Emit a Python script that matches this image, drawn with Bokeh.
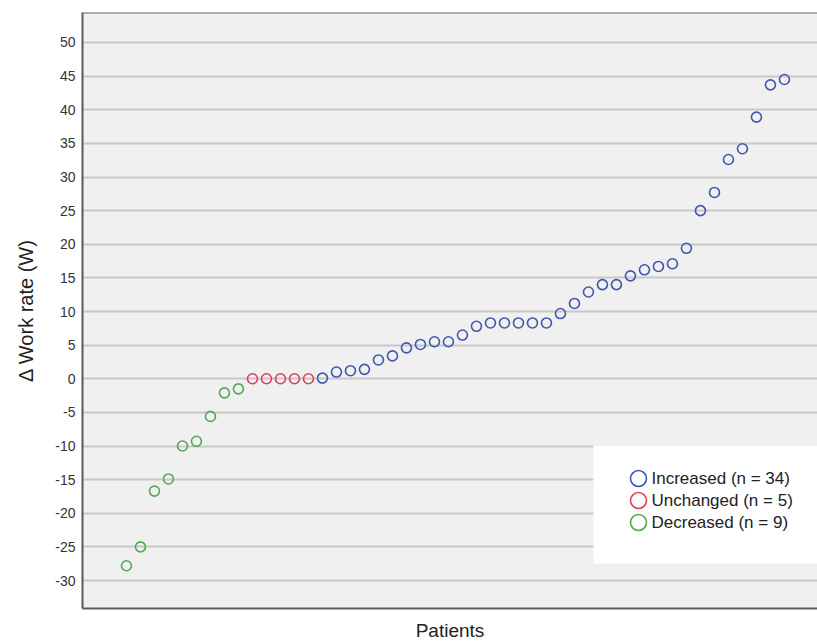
from bokeh.plotting import figure
from bokeh.models import Range1d, FixedTicker, Legend, LegendItem, Span, BoxAnnotation, Label
from bokeh.embed import file_html
from bokeh.resources import INLINE

# ---- data (sorted change in work rate per patient) ----
decreased = [-27.8, -25.0, -16.7, -14.9, -10.0, -9.3, -5.6, -2.1, -1.5]
unchanged = [0.0, 0.0, 0.0, 0.0, 0.0]
increased = [0.1, 1.0, 1.2, 1.4, 2.8, 3.4, 4.6, 5.1, 5.5, 5.5,
             6.5, 7.8, 8.3, 8.3, 8.3, 8.3, 8.3, 9.7, 11.2, 12.9,
             14.0, 14.0, 15.3, 16.2, 16.7, 17.1, 19.4, 25.0, 27.7, 32.6,
             34.2, 38.9, 43.7, 44.5]
group_labels = ["Increased (n = 34)", "Unchanged (n = 5)", "Decreased (n = 9)"]
y_ticks = [-30, -25, -20, -15, -10, -5, 0, 5, 10, 15, 20, 25, 30, 35, 40, 45, 50]

BLUE, RED, GREEN = "#3e58ac", "#e23c5e", "#52a852"
FONT = "Liberation Sans"

Y0, Y1 = -34.16, 54.46
p = figure(width=817, height=643, output_backend="svg", toolbar_location=None,
           x_range=Range1d(-2.14, 50.36), y_range=Range1d(Y0, Y1),
           min_border_left=82, min_border_right=0, min_border_top=12, min_border_bottom=35)
p.background_fill_color = "#f0f0f0"
p.border_fill_color = "white"
p.outline_line_color = None

# axes
p.yaxis.ticker = FixedTicker(ticks=y_ticks)
p.yaxis.major_label_overrides = {t: str(t) for t in y_ticks}
p.yaxis.major_tick_out = 0
p.yaxis.major_tick_in = 0
p.yaxis.minor_tick_out = 0
p.yaxis.minor_tick_in = 0
p.yaxis.major_label_standoff = 7
p.yaxis.major_label_text_font = FONT
p.yaxis.major_label_text_font_size = "14px"
p.yaxis.major_label_text_color = "#333333"
p.yaxis.axis_line_color = "#5a5a5a"
p.yaxis.axis_line_width = 2
p.yaxis.axis_label = "\u0394 Work rate (W)"
p.yaxis.axis_label_text_font = FONT
p.yaxis.axis_label_text_font_size = "20px"
p.yaxis.axis_label_text_font_style = "normal"
p.yaxis.axis_label_text_color = "#222222"
p.yaxis.axis_label_standoff = 15

p.xaxis.ticker = FixedTicker(ticks=[])
p.xaxis.major_tick_out = 0
p.xaxis.major_tick_in = 0
p.xaxis.minor_tick_out = 0
p.xaxis.minor_tick_in = 0
p.xaxis.major_label_text_font_size = "0px"
p.xaxis.major_label_standoff = 0
p.xaxis.axis_line_color = "#5a5a5a"
p.xaxis.axis_line_width = 2
p.xaxis.axis_label = "Patients"
p.xaxis.axis_label_text_font = FONT
p.xaxis.axis_label_text_font_size = "19px"
p.xaxis.axis_label_text_font_style = "normal"
p.xaxis.axis_label_text_color = "#222222"
p.xaxis.axis_label_standoff = 11

p.xgrid.grid_line_color = None
p.ygrid.grid_line_color = "#c8c8c8"
p.ygrid.grid_line_width = 2

p.add_layout(Span(location=Y1, dimension="width", line_color="#6a6a6a", line_width=2))

# points
n_dec, n_unc, n_inc = len(decreased), len(unchanged), len(increased)
x_dec = list(range(1, n_dec + 1))
x_unc = list(range(n_dec + 1, n_dec + n_unc + 1))
x_inc = list(range(n_dec + n_unc + 1, n_dec + n_unc + n_inc + 1))

common = dict(size=10, fill_color=None, line_width=1.6, marker="circle")
r_inc = p.scatter(x_inc, increased, line_color=BLUE, **common)
r_unc = p.scatter(x_unc, unchanged, line_color=RED, **common)
r_dec = p.scatter(x_dec, decreased, line_color=GREEN, **common)

# legend: white panel + one marker row each + text labels (frame-relative screen units)
p.add_layout(BoxAnnotation(left=511, right=740, top=163, bottom=45,
                           left_units="screen", right_units="screen",
                           top_units="screen", bottom_units="screen",
                           fill_color="white", fill_alpha=1.0, line_color=None))
for i, (lab, rend) in enumerate(zip(group_labels, [r_inc, r_unc, r_dec])):
    lg = Legend(items=[LegendItem(label=" ", renderers=[rend])],
                location=(536, 110 - 22 * i), orientation="vertical",
                glyph_width=40, glyph_height=40, spacing=0, label_standoff=0,
                label_width=0, label_height=0, padding=0, margin=0,
                label_text_font=FONT, label_text_font_size="1px",
                background_fill_alpha=0.0, border_line_color=None)
    p.add_layout(lg)
    p.add_layout(Label(x=569, y=130 - 22 * i, x_units="screen", y_units="screen",
                       text=lab, text_font=FONT, text_font_size="17px",
                       text_color="#222222", text_baseline="middle", text_align="left"))

open("out.html", "w").write(file_html(p, INLINE))
